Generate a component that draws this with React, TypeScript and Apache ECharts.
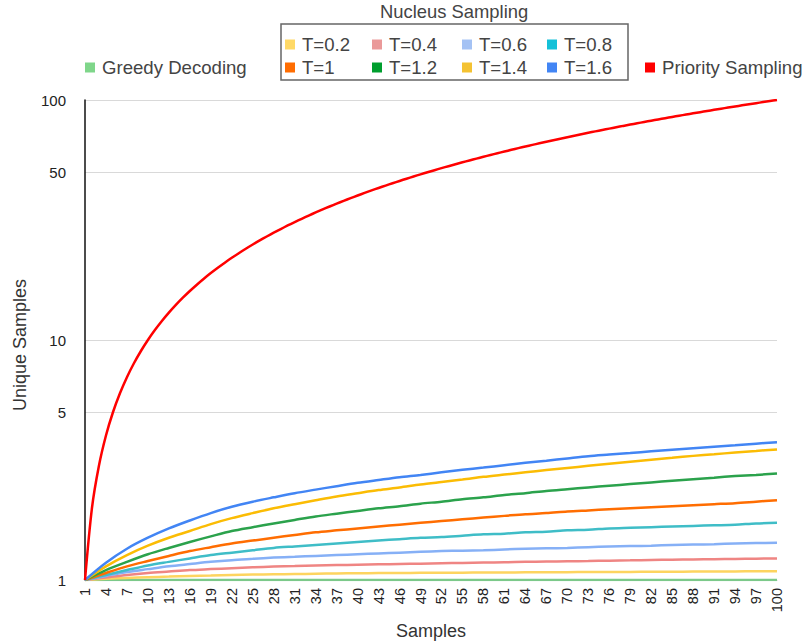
import React, { useEffect, useRef } from 'react';
import * as echarts from 'echarts';

// ---------- data ----------
const CATEGORIES: string[] = Array.from({ length: 100 }, (_, i) => String(i + 1));
const Y_TICKS = [1, 5, 10, 50, 100];

const KEY_SAMPLES = [1, 4, 7, 10, 13, 16, 19, 22, 25, 28, 31, 34, 37, 40, 43, 46, 49, 52, 55, 58, 61, 64, 67, 70, 73, 76, 79, 82, 85, 88, 91, 94, 97, 100];
const T02 = [1, 1.012, 1.02, 1.027, 1.033, 1.04, 1.045, 1.05, 1.053, 1.056, 1.059, 1.062, 1.065, 1.067, 1.069, 1.07, 1.071, 1.072, 1.073, 1.074, 1.075, 1.076, 1.077, 1.078, 1.079, 1.08, 1.081, 1.082, 1.083, 1.084, 1.085, 1.086, 1.0865, 1.087];
const T04 = [1, 1.025, 1.05, 1.07, 1.085, 1.1, 1.11, 1.12, 1.13, 1.137, 1.143, 1.149, 1.154, 1.158, 1.162, 1.166, 1.17, 1.174, 1.178, 1.182, 1.186, 1.19, 1.194, 1.197, 1.2, 1.204, 1.208, 1.212, 1.215, 1.218, 1.221, 1.224, 1.227, 1.23];
const T06 = [1, 1.04, 1.08, 1.11, 1.14, 1.165, 1.19, 1.21, 1.225, 1.24, 1.25, 1.26, 1.27, 1.28, 1.29, 1.3, 1.31, 1.32, 1.325, 1.33, 1.34, 1.35, 1.355, 1.36, 1.37, 1.38, 1.385, 1.39, 1.4, 1.405, 1.41, 1.42, 1.425, 1.43];
const T08 = [1, 1.05, 1.1, 1.15, 1.19, 1.23, 1.27, 1.3, 1.33, 1.36, 1.38, 1.4, 1.42, 1.44, 1.46, 1.48, 1.5, 1.51, 1.53, 1.55, 1.56, 1.58, 1.59, 1.61, 1.62, 1.64, 1.65, 1.66, 1.67, 1.68, 1.69, 1.7, 1.72, 1.73];
const T10 = [1, 1.07, 1.14, 1.2, 1.26, 1.32, 1.37, 1.42, 1.46, 1.5, 1.54, 1.58, 1.61, 1.64, 1.67, 1.7, 1.73, 1.76, 1.79, 1.82, 1.85, 1.88, 1.9, 1.93, 1.95, 1.97, 1.99, 2.01, 2.03, 2.05, 2.07, 2.09, 2.12, 2.15];
const T12 = [1, 1.1, 1.19, 1.28, 1.36, 1.44, 1.52, 1.6, 1.66, 1.72, 1.78, 1.84, 1.89, 1.94, 1.99, 2.03, 2.08, 2.12, 2.17, 2.21, 2.26, 2.3, 2.35, 2.39, 2.43, 2.47, 2.51, 2.55, 2.59, 2.63, 2.67, 2.71, 2.74, 2.78];
const T14 = [1, 1.14, 1.27, 1.39, 1.5, 1.6, 1.71, 1.81, 1.9, 1.99, 2.07, 2.15, 2.23, 2.3, 2.37, 2.43, 2.5, 2.56, 2.62, 2.69, 2.75, 2.81, 2.87, 2.93, 2.99, 3.05, 3.11, 3.17, 3.23, 3.29, 3.34, 3.4, 3.45, 3.5];
const T16 = [1, 1.18, 1.35, 1.5, 1.64, 1.77, 1.9, 2.02, 2.12, 2.21, 2.3, 2.38, 2.46, 2.54, 2.61, 2.68, 2.74, 2.81, 2.88, 2.94, 3.01, 3.08, 3.14, 3.21, 3.28, 3.33, 3.38, 3.44, 3.49, 3.54, 3.59, 3.64, 3.7, 3.75];

const GREEDY_SAMPLES = [1, 100];
const GREEDY = [1, 1];

const PRIORITY_SAMPLES = [
  1, 2, 3, 4, 5, 6, 7, 8, 9, 10, 11, 12, 13, 14, 15, 16, 17, 18, 19, 20,
  21, 22, 23, 24, 25, 26, 27, 28, 29, 30, 31, 32, 33, 34, 35, 36, 37, 38, 39, 40,
  41, 42, 43, 44, 45, 46, 47, 48, 49, 50, 51, 52, 53, 54, 55, 56, 57, 58, 59, 60,
  61, 62, 63, 64, 65, 66, 67, 68, 69, 70, 71, 72, 73, 74, 75, 76, 77, 78, 79, 80,
  81, 82, 83, 84, 85, 86, 87, 88, 89, 90, 91, 92, 93, 94, 95, 96, 97, 98, 99, 100,
];
const PRIORITY = [
  1, 2, 3, 4, 5, 6, 7, 8, 9, 10, 11, 12, 13, 14, 15, 16, 17, 18, 19, 20,
  21, 22, 23, 24, 25, 26, 27, 28, 29, 30, 31, 32, 33, 34, 35, 36, 37, 38, 39, 40,
  41, 42, 43, 44, 45, 46, 47, 48, 49, 50, 51, 52, 53, 54, 55, 56, 57, 58, 59, 60,
  61, 62, 63, 64, 65, 66, 67, 68, 69, 70, 71, 72, 73, 74, 75, 76, 77, 78, 79, 80,
  81, 82, 83, 84, 85, 86, 87, 88, 89, 90, 91, 92, 93, 94, 95, 96, 97, 98, 99, 100,
];

const FONT = 'Liberation Sans, Arial, Helvetica, sans-serif';

type SeriesDef = {
  name: string;
  samples: number[];
  values: number[];
  color: string;
  legendColor: string;
  legendPos: [number, number];
};

const SERIES: SeriesDef[] = [
  { name: 'Greedy Decoding', samples: GREEDY_SAMPLES, values: GREEDY, color: '#7cc98a', legendColor: '#7fd68a', legendPos: [85, 58] },
  { name: 'T=0.2', samples: KEY_SAMPLES, values: T02, color: '#fdd45f', legendColor: '#ffd966', legendPos: [285, 35] },
  { name: 'T=0.4', samples: KEY_SAMPLES, values: T04, color: '#ef8583', legendColor: '#ea9999', legendPos: [372, 35] },
  { name: 'T=0.6', samples: KEY_SAMPLES, values: T06, color: '#86b0f6', legendColor: '#a4c2f4', legendPos: [462, 35] },
  { name: 'T=0.8', samples: KEY_SAMPLES, values: T08, color: '#3fbdc7', legendColor: '#14c1d8', legendPos: [547, 35] },
  { name: 'T=1', samples: KEY_SAMPLES, values: T10, color: '#ff6d01', legendColor: '#ff6d01', legendPos: [285, 58] },
  { name: 'T=1.2', samples: KEY_SAMPLES, values: T12, color: '#2ba24c', legendColor: '#009e2e', legendPos: [372, 58] },
  { name: 'T=1.4', samples: KEY_SAMPLES, values: T14, color: '#fbbc04', legendColor: '#f4c232', legendPos: [462, 58] },
  { name: 'T=1.6', samples: KEY_SAMPLES, values: T16, color: '#4285f4', legendColor: '#4285f4', legendPos: [547, 58] },
  { name: 'Priority Sampling', samples: PRIORITY_SAMPLES, values: PRIORITY, color: '#ff0000', legendColor: '#ff0000', legendPos: [645, 58] },
];

export default function App() {
  const ref = useRef<HTMLDivElement>(null);

  useEffect(() => {
    if (!ref.current) return;
    const chart = echarts.init(ref.current, undefined, { renderer: 'svg' });

    const legends = SERIES.map((s) => ({
      left: s.legendPos[0],
      top: s.legendPos[1],
      padding: 0,
      itemWidth: 10,
      itemHeight: 10,
      selectedMode: false,
      textStyle: { fontSize: 18.6, color: '#444', fontFamily: FONT, padding: [0, 0, 0, 2] },
      data: [{ name: s.name, icon: 'rect', itemStyle: { color: s.legendColor, borderWidth: 0 } }],
    }));

    const option: any = {
      animation: false,
      backgroundColor: '#ffffff',
      title: {
        text: 'Nucleus Sampling',
        left: 380,
        top: 2,
        padding: 0,
        textStyle: { fontSize: 18.4, fontWeight: 'normal', color: '#444', fontFamily: FONT },
      },
      legend: legends,
      graphic: [
        {
          type: 'rect',
          shape: { x: 281, y: 24, width: 347, height: 56 },
          style: { fill: 'none', stroke: '#666', lineWidth: 1.5 },
          silent: true,
        },
      ],
      grid: { left: 85, right: 31, top: 100, bottom: 62, containLabel: false, outerBoundsMode: 'none' },
      xAxis: {
        type: 'category',
        data: CATEGORIES,
        boundaryGap: false,
        name: 'Samples',
        nameLocation: 'middle',
        nameGap: 42,
        nameTextStyle: { fontSize: 18, color: '#333', fontFamily: FONT },
        axisLine: { show: true, lineStyle: { color: '#cccccc', width: 1 } },
        axisTick: { show: false },
        axisLabel: {
          interval: 2,
          rotate: 90,
          margin: 8,
          fontSize: 14.5,
          color: '#222',
          fontFamily: FONT,
        },
        splitLine: { show: false },
      },
      yAxis: {
        type: 'log',
        logBase: 10,
        min: 1,
        max: 100,
        name: 'Unique Samples',
        nameLocation: 'middle',
        nameGap: 56,
        nameTextStyle: { fontSize: 18, color: '#333', fontFamily: FONT, padding: [0, 10, 0, 0] },
        axisLine: { show: true, lineStyle: { color: '#111', width: 1.5 } },
        axisTick: { show: false, customValues: Y_TICKS },
        axisLabel: {
          customValues: Y_TICKS,
          margin: 19,
          fontSize: 15,
          color: '#222',
          fontFamily: FONT,
          formatter: (v: number) => String(Math.round(v)),
        },
        splitLine: { show: true, lineStyle: { color: '#d9d9d9', width: 1 } },
        minorTick: { show: false },
        minorSplitLine: { show: false },
      },
      series: SERIES.map((s) => ({
        name: s.name,
        type: 'line',
        data: s.samples.map((x, i) => [String(x), s.values[i]]),
        smooth: 0.3,
        showSymbol: false,
        symbol: 'none',
        color: s.color,
        lineStyle: { color: s.color, width: 2.5 },
        emphasis: { disabled: true },
      })),
    };

    chart.setOption(option);
    return () => chart.dispose();
  }, []);

  return (
    <div
      ref={ref}
      style={{ position: 'fixed', left: 0, top: 0, width: 808, height: 642, background: '#fff' }}
    />
  );
}
